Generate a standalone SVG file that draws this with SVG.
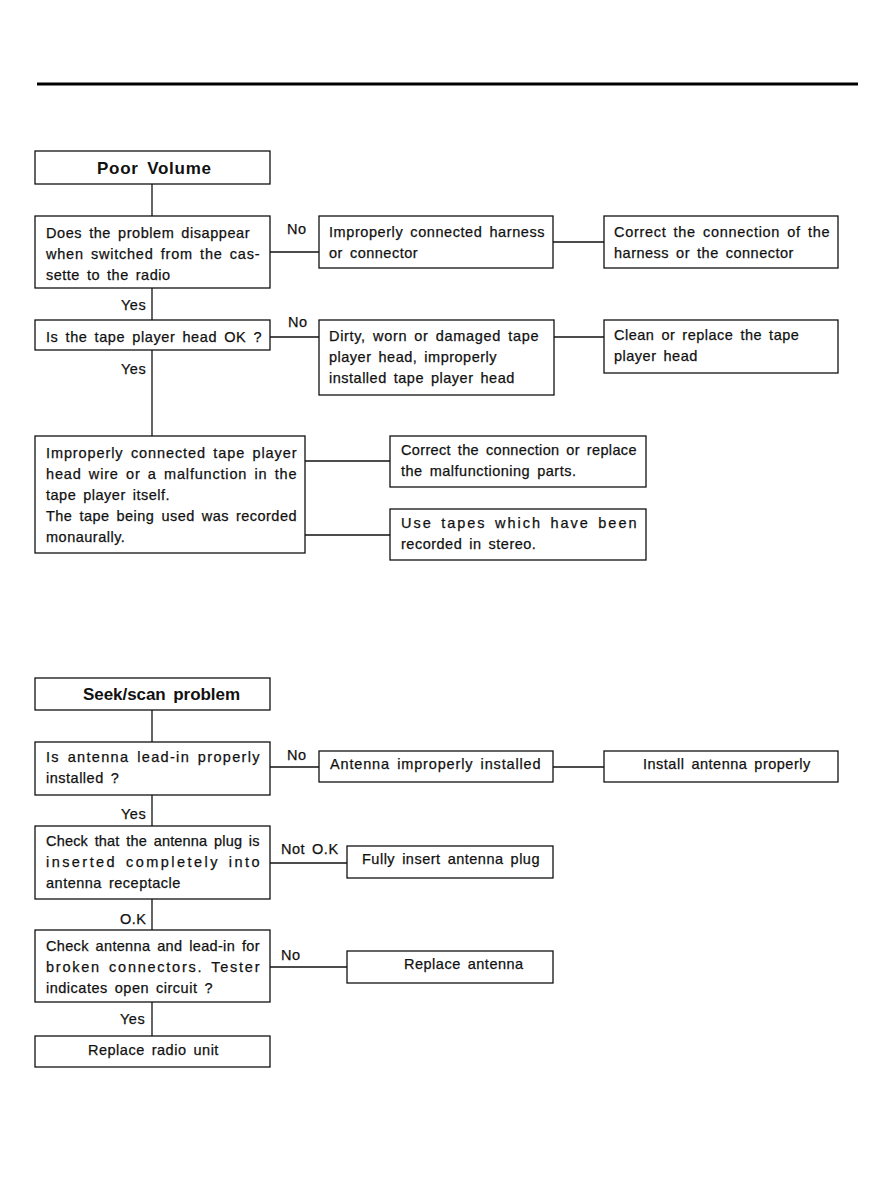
<svg xmlns="http://www.w3.org/2000/svg" width="876" height="1199" viewBox="0 0 876 1199">
<style>
rect{fill:#fff;stroke:#111;stroke-width:1.3}
.c line{stroke:#111;stroke-width:1.3}
text{font-family:"Liberation Sans",Arial,sans-serif;font-size:14.5px;fill:#111;word-spacing:2.5px;letter-spacing:0.5px;stroke:#111;stroke-width:0.25}
.t{font-size:17px;font-weight:bold;word-spacing:3px;letter-spacing:0;stroke-width:0}
</style>
<rect x="0" y="0" width="876" height="1199" style="stroke:none"/>
<line x1="37" y1="84" x2="858" y2="84" stroke="#000" stroke-width="3"/>
<g class="c" id="connectors">
<line x1="152" y1="184" x2="152" y2="216"/>
<line x1="270" y1="252" x2="319" y2="252"/>
<line x1="553" y1="242" x2="604" y2="242"/>
<line x1="152" y1="288" x2="152" y2="320"/>
<line x1="270" y1="337" x2="319" y2="337"/>
<line x1="554" y1="337" x2="604" y2="337"/>
<line x1="152" y1="350" x2="152" y2="436"/>
<line x1="305" y1="461" x2="390" y2="461"/>
<line x1="305" y1="535" x2="390" y2="535"/>
<line x1="152" y1="710" x2="152" y2="742"/>
<line x1="270" y1="767" x2="319" y2="767"/>
<line x1="553" y1="767" x2="604" y2="767"/>
<line x1="152" y1="795" x2="152" y2="826"/>
<line x1="270" y1="863" x2="347" y2="863"/>
<line x1="152" y1="899" x2="152" y2="930"/>
<line x1="270" y1="967" x2="347" y2="967"/>
<line x1="152" y1="1002" x2="152" y2="1036"/>
</g>
<g id="labels">
<text x="287" y="234">No</text>
<text x="121" y="310">Yes</text>
<text x="288" y="327">No</text>
<text x="121" y="374">Yes</text>
<text x="287" y="760">No</text>
<text x="121" y="819">Yes</text>
<text x="281" y="854">Not O.K</text>
<text x="120" y="924">O.K</text>
<text x="281" y="960">No</text>
<text x="120" y="1024">Yes</text>
</g>
<g id="poor-volume"><rect x="35" y="151" width="235" height="33"/><text class="t" x="97" y="174" textLength="114">Poor Volume</text></g>
<g id="q1"><rect x="35" y="216" width="235" height="72"/>
<text x="46" y="238" textLength="204">Does the problem disappear</text>
<text x="46" y="259" textLength="214">when switched from the cas-</text>
<text x="46" y="280">sette to the radio</text></g>
<g id="harness"><rect x="319" y="216" width="234" height="52"/>
<text x="329" y="237" textLength="216">Improperly connected harness</text>
<text x="329" y="258">or connector</text></g>
<g id="fix-harness"><rect x="604" y="216" width="234" height="52"/>
<text x="614" y="237" textLength="216">Correct the connection of the</text>
<text x="614" y="258">harness or the connector</text></g>
<g id="q2"><rect x="35" y="320" width="235" height="30"/>
<text x="46" y="342" textLength="216">Is the tape player head OK ?</text></g>
<g id="head"><rect x="319" y="320" width="235" height="75"/>
<text x="329" y="341" textLength="210">Dirty, worn or damaged tape</text>
<text x="329" y="362">player head, improperly</text>
<text x="329" y="383">installed tape player head</text></g>
<g id="fix-head"><rect x="604" y="320" width="234" height="53"/>
<text x="614" y="340">Clean or replace the tape</text>
<text x="614" y="361">player head</text></g>
<g id="wire"><rect x="35" y="436" width="270" height="117"/>
<text x="46" y="458" textLength="251">Improperly connected tape player</text>
<text x="46" y="479" textLength="251">head wire or a malfunction in the</text>
<text x="46" y="500">tape player itself.</text>
<text x="46" y="521" textLength="251">The tape being used was recorded</text>
<text x="46" y="542">monaurally.</text></g>
<g id="fix-wire"><rect x="390" y="436" width="256" height="51"/>
<text x="401" y="455" textLength="236">Correct the connection or replace</text>
<text x="401" y="476">the malfunctioning parts.</text></g>
<g id="stereo"><rect x="390" y="509" width="256" height="51"/>
<text x="401" y="528" textLength="236">Use tapes which have been</text>
<text x="401" y="549">recorded in stereo.</text></g>
<g id="seek"><rect x="35" y="678" width="235" height="32"/><text class="t" x="83" y="700" textLength="157">Seek/scan problem</text></g>
<g id="q3"><rect x="35" y="742" width="235" height="53"/>
<text x="46" y="762" textLength="214">Is antenna lead-in properly</text>
<text x="46" y="783">installed ?</text></g>
<g id="antenna-bad"><rect x="319" y="751" width="234" height="31"/>
<text x="330" y="769" textLength="211">Antenna improperly installed</text></g>
<g id="install"><rect x="604" y="751" width="234" height="31"/>
<text x="643" y="769">Install antenna properly</text></g>
<g id="q4"><rect x="35" y="826" width="235" height="73"/>
<text x="46" y="846" textLength="214">Check that the antenna plug is</text>
<text x="46" y="867" textLength="214">inserted completely into</text>
<text x="46" y="888">antenna receptacle</text></g>
<g id="plug"><rect x="347" y="846" width="206" height="32"/>
<text x="362" y="864">Fully insert antenna plug</text></g>
<g id="q5"><rect x="35" y="930" width="235" height="72"/>
<text x="46" y="951" textLength="214">Check antenna and lead-in for</text>
<text x="46" y="972" textLength="214">broken connectors. Tester</text>
<text x="46" y="993">indicates open circuit ?</text></g>
<g id="replace-antenna"><rect x="347" y="951" width="206" height="32"/>
<text x="404" y="969">Replace antenna</text></g>
<g id="replace-radio"><rect x="35" y="1036" width="235" height="31"/>
<text x="88" y="1055">Replace radio unit</text></g>
</svg>
